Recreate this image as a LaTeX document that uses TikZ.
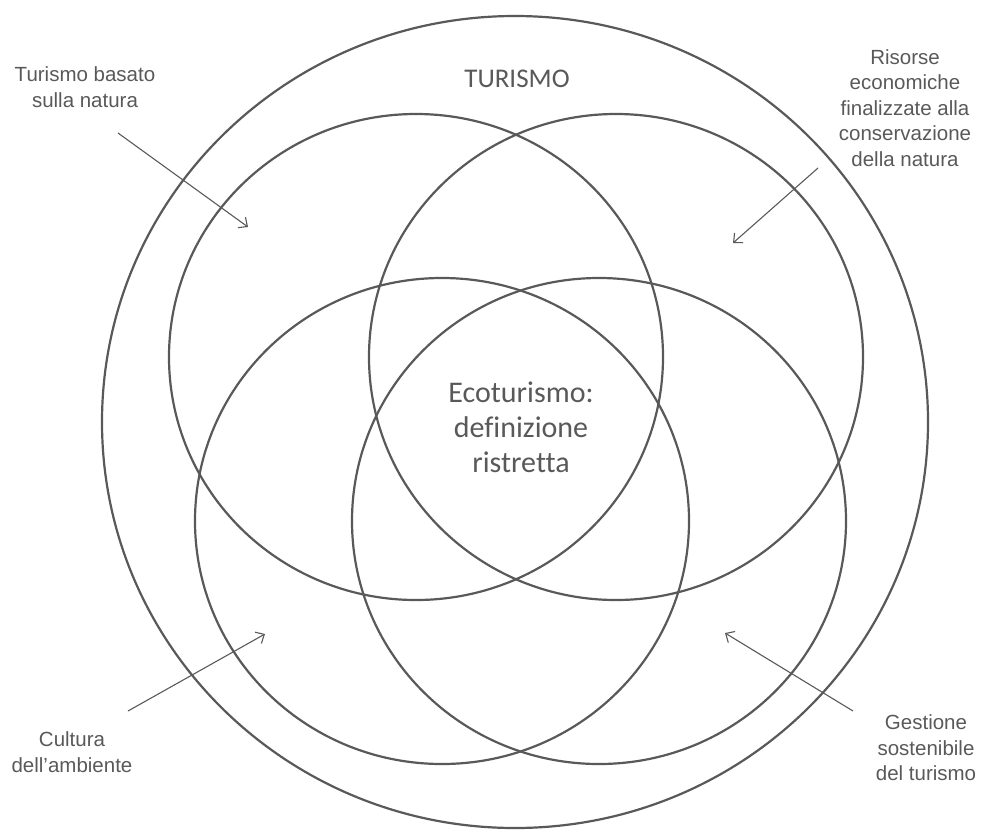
\documentclass[tikz,border=0pt]{standalone}
\usepackage{fontspec}
\setmainfont{Liberation Sans}
\newfontfamily\calib[Ligatures={NoCommon}]{Carlito}
\usetikzlibrary{arrows.meta}
\definecolor{ink}{HTML}{595959}
\begin{document}
\begin{tikzpicture}[x=1pt,y=-1pt,
  ring/.style={draw=ink, line width=2.2pt},
  pointer/.style={draw=ink, line width=1.1pt, -{Straight Barb[length=7pt,width=13pt,line width=1.1pt]}},
  lab/.style={text=ink, font=\fontsize{20.5}{25.5}\selectfont, align=center, inner sep=0pt},
  big/.style={text=ink, font=\calib\fontsize{30}{35}\selectfont, align=center, inner sep=0pt},
  title/.style={text=ink, font=\calib\fontsize{27}{30}\selectfont, inner sep=0pt}]
\useasboundingbox (0,0) rectangle (981,835);
% circles
\draw[ring] (515,422) ellipse [x radius=413pt, y radius=406pt];
\draw[ring] (416,357) ellipse [x radius=247pt, y radius=243pt];
\draw[ring] (616,357) ellipse [x radius=247pt, y radius=243pt];
\draw[ring] (442,521) ellipse [x radius=247pt, y radius=243pt];
\draw[ring] (599,521) ellipse [x radius=247pt, y radius=243pt];
% texts
\node[title] (tur) at (517,79) {TURISMO};
\node[big] (eco) at (521,427) {Ecoturismo:\\definizione\\ristretta};
\node[lab] (nat) at (85,87) {Turismo basato\\sulla natura};
\node[lab] (ris) at (905,108) {Risorse\\economiche\\finalizzate alla\\conservazione\\della natura};
\node[lab] (cul) at (72,752) {Cultura\\dell’ambiente};
\node[lab] (ges) at (926,748) {Gestione\\sostenibile\\del turismo};
% arrows
\coordinate (natS) at (118,133); \coordinate (natE) at (248,227);
\coordinate (risS) at (818,168); \coordinate (risE) at (733,243);
\coordinate (culS) at (128,711); \coordinate (culE) at (265,634);
\coordinate (gesS) at (853,711); \coordinate (gesE) at (725,633);
\draw[pointer] (natS) -- (natE);
\draw[pointer] (risS) -- (risE);
\draw[pointer] (culS) -- (culE);
\draw[pointer] (gesS) -- (gesE);
\end{tikzpicture}
\end{document}
